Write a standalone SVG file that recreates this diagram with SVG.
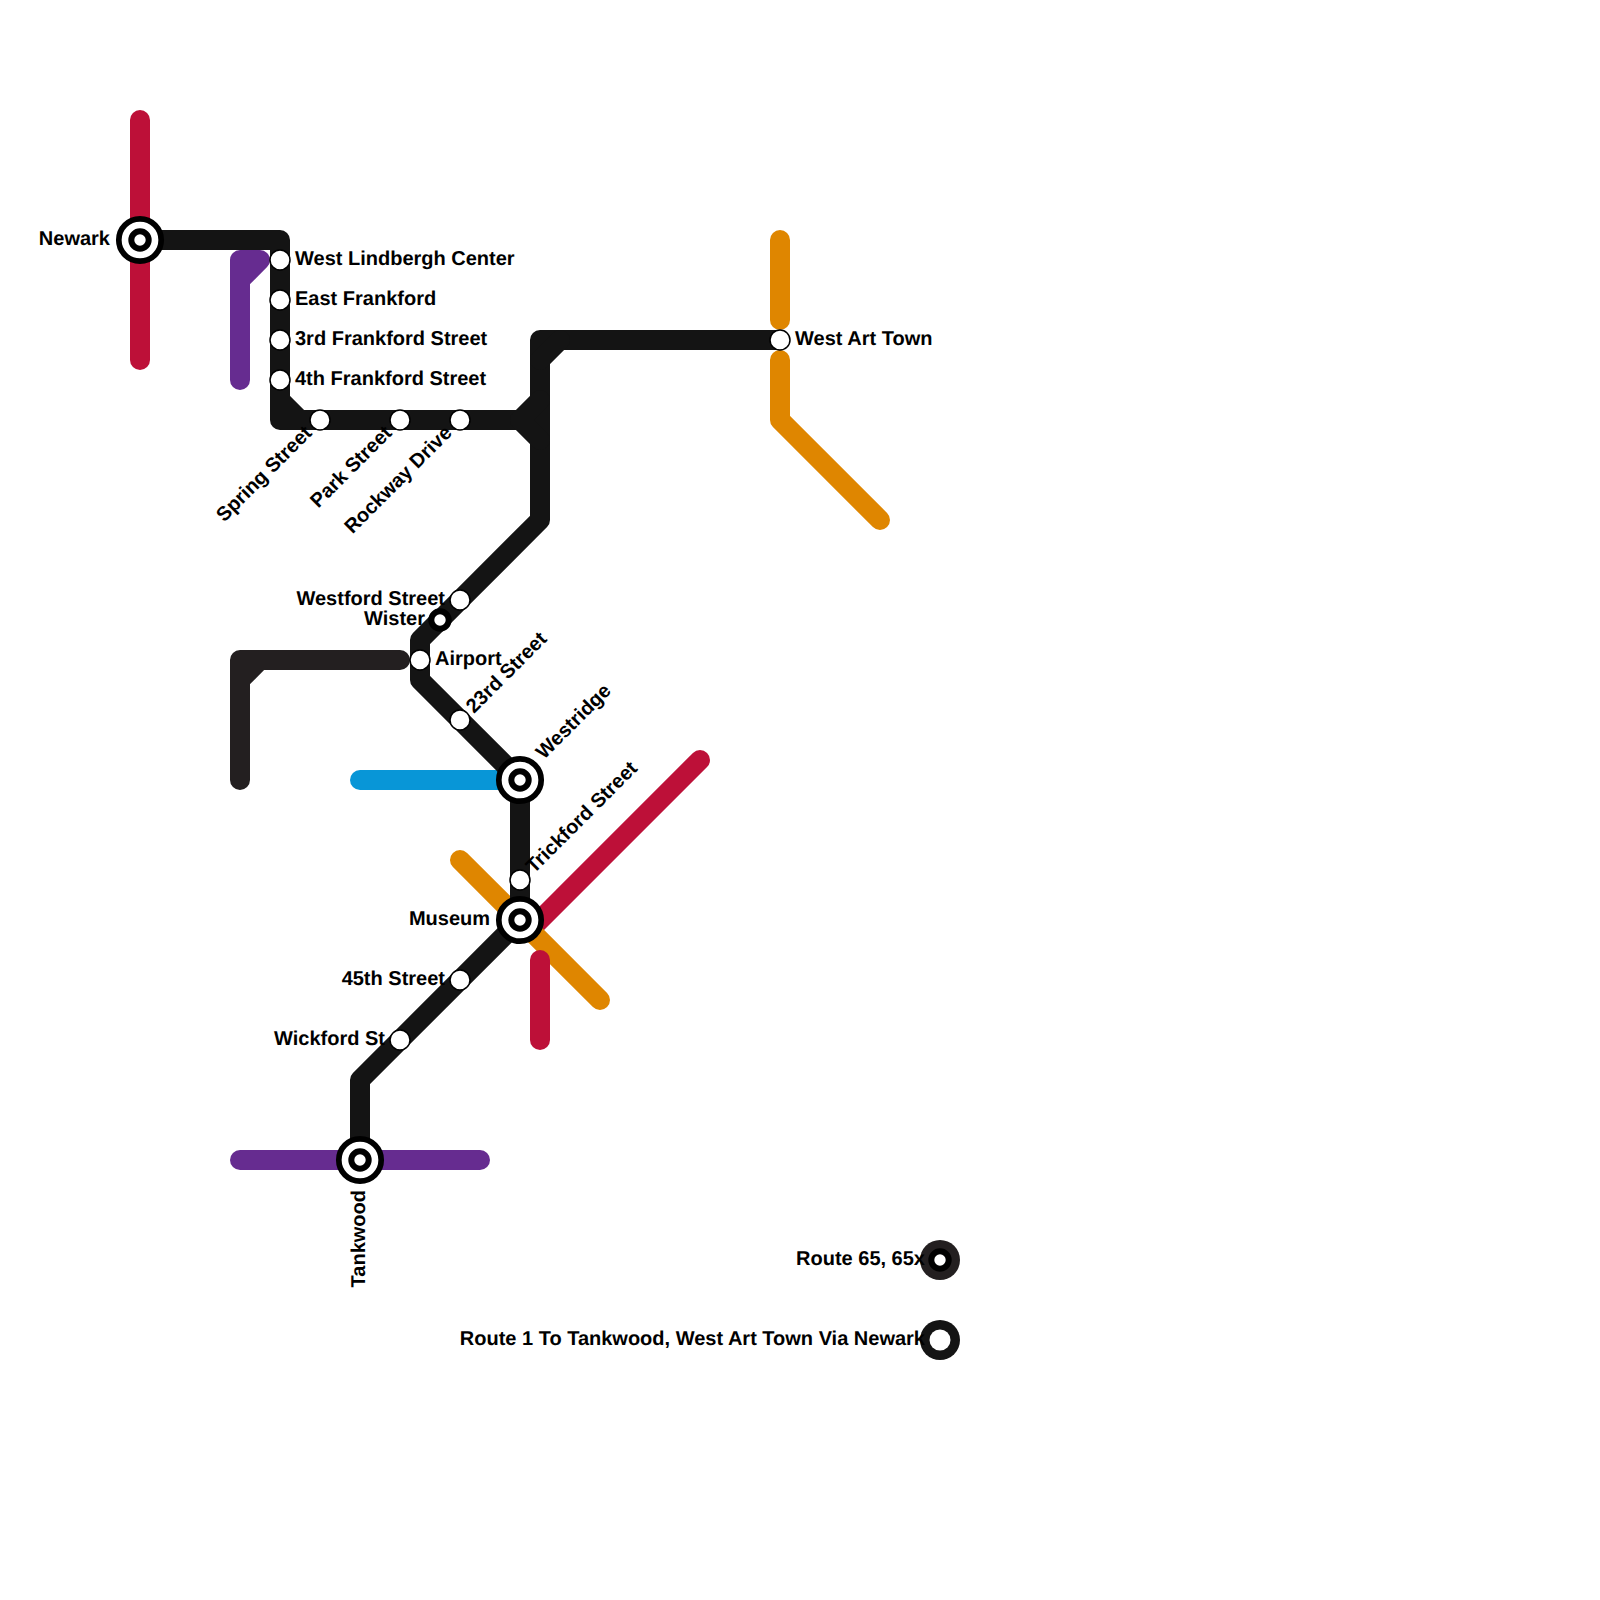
<svg xmlns="http://www.w3.org/2000/svg" width="1600" height="1600" viewBox="0 0 1600 1600">
<style>
text{font-family:"Liberation Sans",Arial,sans-serif;font-weight:700;font-size:20px;fill:#000;text-rendering:geometricPrecision}
.e{text-anchor:end}
.l{fill:none;stroke-width:20;stroke-linecap:round;stroke-linejoin:round}
.k{stroke:#141414}.d{stroke:#231f20}.r{stroke:#bd1038}.p{stroke:#662c90}.o{stroke:#df8600}.b{stroke:#0896d7}
.s{fill:#fff;stroke:#000;stroke-width:1.5}
.ho{fill:#fff;stroke:#000;stroke-width:5.7}
.hi{fill:#fff;stroke:#000;stroke-width:6}
</style>
<defs>
<g id="hub"><circle class="ho" r="21.2"/><circle class="hi" r="8.7"/></g>
<circle id="st" class="s" r="10"/>
</defs>
<g id="connectors">
<path class="l r" d="M140 120V360"/>
<path class="l r" d="M700 760L530 930"/>
<path class="l o" d="M460 860L600 1000"/>
<path class="l r" d="M540 960V1040"/>
<path class="l o" d="M780 240V320"/>
<path class="l o" d="M780 360V420L880 520"/>
<path class="l p" d="M240 380V260H260L240 280"/>
<path class="l p" d="M240 1160H480"/>
<path class="l b" d="M360 780H520"/>
<path class="l d" d="M240 780V660H400M240 680L260 660"/>
<path class="l k" d="M140 240H280V420H540M280 400L300 420"/>
<path class="l k" d="M780 340H540V520L420 640V680L520 780V920L360 1080V1160"/>
<path class="l k" d="M540 360L560 340M520 420L540 400M520 420L540 440"/>
</g>
<g id="newark"><use href="#hub" x="140" y="240"/><text class="e" x="110" y="245">Newark</text></g>
<g id="west-lindbergh"><use href="#st" x="280" y="260"/><text x="295" y="265">West Lindbergh Center</text></g>
<g id="east-frankford"><use href="#st" x="280" y="300"/><text x="295" y="305">East Frankford</text></g>
<g id="third-frankford"><use href="#st" x="280" y="340"/><text x="295" y="345">3rd Frankford Street</text></g>
<g id="fourth-frankford"><use href="#st" x="280" y="380"/><text x="295" y="385">4th Frankford Street</text></g>
<g id="spring-street"><use href="#st" x="320" y="420"/><text class="e" transform="translate(313 434) rotate(-45)">Spring Street</text></g>
<g id="park-street"><use href="#st" x="400" y="420"/><text class="e" transform="translate(393 434) rotate(-45)">Park Street</text></g>
<g id="rockway-drive"><use href="#st" x="460" y="420"/><text class="e" transform="translate(453 434) rotate(-45)">Rockway Drive</text></g>
<g id="west-art-town"><use href="#st" x="780" y="340"/><text x="795" y="345">West Art Town</text></g>
<g id="westford-street"><use href="#st" x="460" y="600"/><text class="e" x="445" y="605">Westford Street</text></g>
<g id="wister"><circle cx="440" cy="620" r="8.7" fill="#fff" stroke="#000" stroke-width="6"/><text class="e" x="425" y="625">Wister</text></g>
<g id="airport"><use href="#st" x="420" y="660"/><text x="435" y="665">Airport</text></g>
<g id="street-23rd"><use href="#st" x="460" y="720"/><text transform="translate(474 714) rotate(-45)">23rd Street</text></g>
<g id="westridge"><use href="#hub" x="520" y="780"/><text transform="translate(544 760) rotate(-45)">Westridge</text></g>
<g id="trickford-street"><use href="#st" x="520" y="880"/><text transform="translate(534 874) rotate(-45)">Trickford Street</text></g>
<g id="museum"><use href="#hub" x="520" y="920"/><text class="e" x="490" y="925">Museum</text></g>
<g id="street-45th"><use href="#st" x="460" y="980"/><text class="e" x="445" y="985">45th Street</text></g>
<g id="wickford-st"><use href="#st" x="400" y="1040"/><text class="e" x="385" y="1045">Wickford St</text></g>
<g id="tankwood"><use href="#hub" x="360" y="1160"/><text class="e" transform="translate(365 1190) rotate(-90)">Tankwood</text></g>
<g id="legend-65"><circle cx="940" cy="1260" r="20" fill="#231f20"/><circle cx="940" cy="1260" r="8.7" fill="#fff" stroke="#000" stroke-width="6"/><text class="e" x="925" y="1265">Route 65, 65x</text></g>
<g id="legend-1"><circle cx="940" cy="1340" r="20" fill="#141414"/><circle cx="940" cy="1340" r="10.5" fill="#fff"/><text class="e" x="925" y="1345">Route 1 To Tankwood, West Art Town Via Newark</text></g>
</svg>
